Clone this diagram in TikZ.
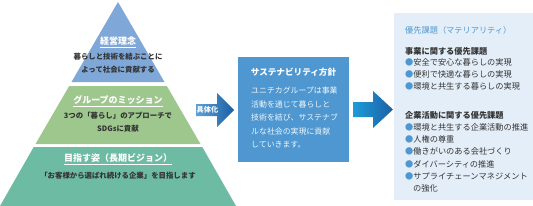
\documentclass[tikz,border=0pt]{standalone}
\usepackage{fontspec}
\setmainfont{Noto Sans CJK JP}
\definecolor{philblue}{HTML}{7FA7D7}
\definecolor{missgreen}{HTML}{9DC78C}
\definecolor{visteal}{HTML}{6DBBA2}
\definecolor{policyblue}{HTML}{4E97D0}
\definecolor{panelblue}{HTML}{E4EEF8}
\definecolor{darktext}{HTML}{333333}
\definecolor{arrowdark}{HTML}{1B5FA4}
\definecolor{arrowlight}{HTML}{1E9BD9}
\tikzset{
  headtext/.style={text=white, font=\fontsize{9}{11}\selectfont\bfseries},
  bodytext/.style={text=darktext, font=\fontsize{7.4}{13}\selectfont\bfseries, align=center},
  itemtext/.style={anchor=west, text=darktext, font=\fontsize{8.2}{10}\selectfont, inner sep=0pt}
}
\newcommand{\blt}{\textcolor{policyblue}{●}}
\begin{document}
\begin{tikzpicture}[x=1pt, y=-1pt]
  \useasboundingbox (0,0) rectangle (533,206);
  % pyramid, three layers
  \coordinate (AP) at (118, 2);
  \fill[philblue] (AP) -- (71.5, 82) -- (164.5, 82) -- cycle;
  \fill[missgreen] (69.2, 86) -- (166.8, 86) -- (200.5, 144) -- (35.5, 144) -- cycle;
  \fill[visteal] (33.7, 147) -- (202.3, 147) -- (236, 206) -- (0, 206) -- cycle;
  \node[headtext] (philo) at (118, 42) {\underline{経営理念}};
  \node[bodytext] (philotxt) at (118, 63.5) {暮らしと技術を結ぶことに\\よって社会に貢献する};
  \node[headtext] (mission) at (118, 101) {\underline{グループのミッション}};
  \node[bodytext] (missiontxt) at (118, 122.5) {3つの「暮らし」のアプローチで\\SDGsに貢献};
  \node[headtext] (vision) at (118, 159.5) {\underline{目指す姿（長期ビジョン）}};
  \node[bodytext] (visiontxt) at (118, 176) {「お客様から選ばれ続ける企業」を目指します};
  % arrow into the policy box
  \shade[left color=policyblue!90!white, right color=arrowdark]
    (196, 104) -- (217, 104) -- (217, 93) -- (234, 110) -- (217, 127)
    -- (217, 116) -- (196, 116) -- cycle;
  \node[text=white, font=\fontsize{7.2}{9}\selectfont\bfseries] (concrete) at (207.5, 110) {具体化};
  % sustainability policy
  \fill[policyblue] (238, 57) rectangle (349, 162);
  \node[headtext, font=\fontsize{8.6}{10}\selectfont\bfseries] (policy) at (293.5, 72) {サステナビリティ方針};
  \node[anchor=north west, text=white!92!policyblue, align=left, inner sep=0pt,
    font=\fontsize{7.9}{13.5}\selectfont] (policytxt) at (251, 87)
    {ユニチカグループは事業\\活動を通じて暮らしと\\技術を結び、サステナブ\\ルな社会の実現に貢献\\していきます。};
  % arrow into the materiality panel
  \shade[left color=arrowlight, right color=arrowdark]
    (353, 102) -- (373, 102) -- (373, 91) -- (393, 109.5) -- (373, 128)
    -- (373, 117) -- (353, 117) -- cycle;
  % materiality panel
  \fill[panelblue] (394, 13) rectangle (533, 200);
  \node[itemtext, text=policyblue] (mat) at (405, 30) {優先課題（マテリアリティ）};
  \node[itemtext, font=\fontsize{8.2}{10}\selectfont\bfseries] (biz) at (405, 51) {事業に関する優先課題};
  \node[itemtext] (b1) at (405, 62) {\blt 安全で安心な暮らしの実現};
  \node[itemtext] (b2) at (405, 74) {\blt 便利で快適な暮らしの実現};
  \node[itemtext] (b3) at (405, 86.5) {\blt 環境と共生する暮らしの実現};
  \node[itemtext, font=\fontsize{8.2}{10}\selectfont\bfseries] (corp) at (405, 115) {企業活動に関する優先課題};
  \node[itemtext] (c1) at (405, 127) {\blt 環境と共生する企業活動の推進};
  \node[itemtext] (c2) at (405, 139) {\blt 人権の尊重};
  \node[itemtext] (c3) at (405, 151.5) {\blt 働きがいのある会社づくり};
  \node[itemtext] (c4) at (405, 164) {\blt ダイバーシティの推進};
  \node[itemtext] (c5) at (405, 176) {\blt サプライチェーンマネジメント};
  \node[itemtext] (c5b) at (413, 188.5) {の強化};
\end{tikzpicture}
\end{document}
